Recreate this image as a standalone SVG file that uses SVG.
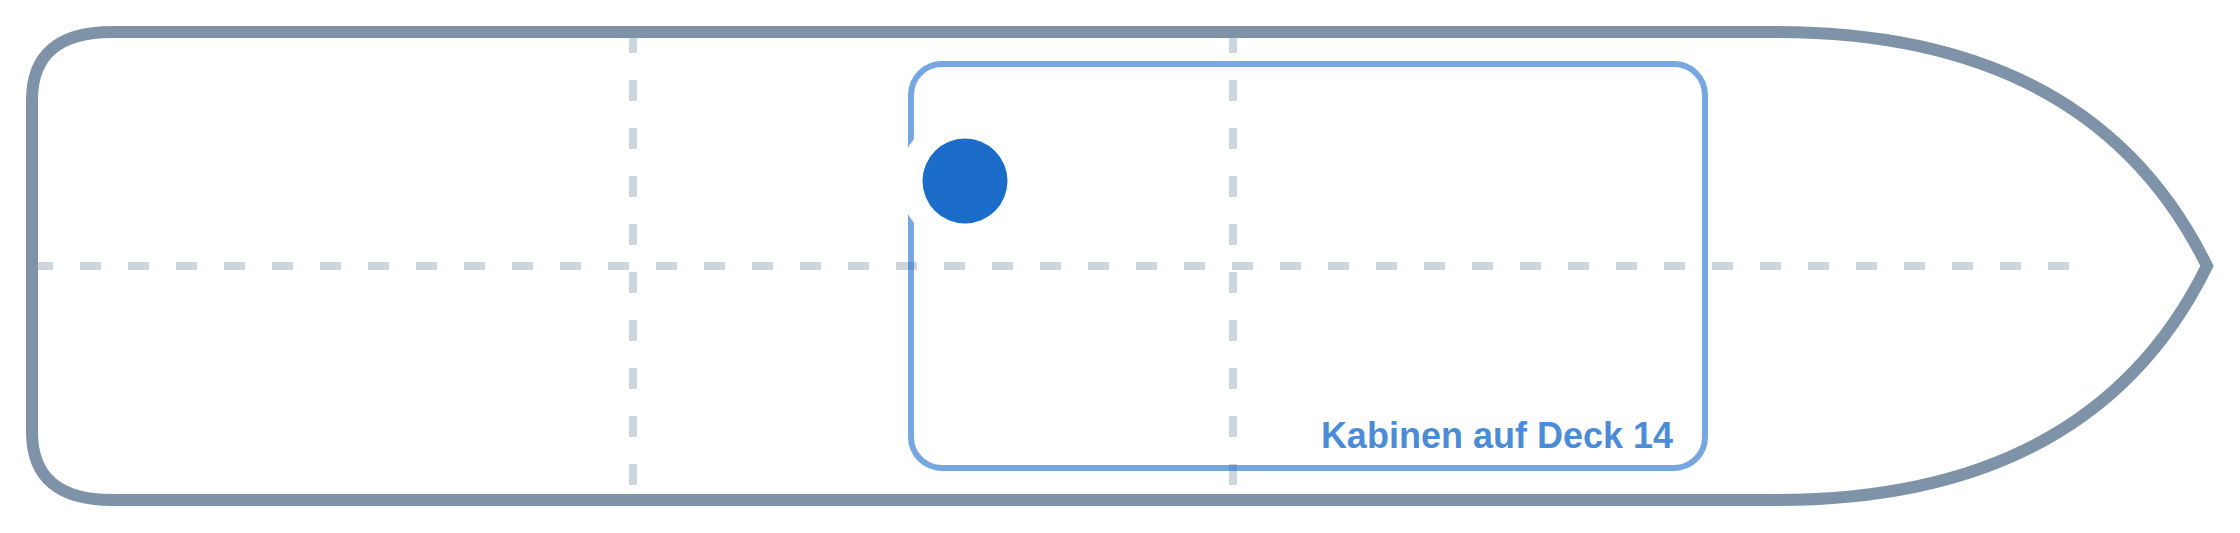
<svg xmlns="http://www.w3.org/2000/svg" width="2240" height="533" viewBox="0 0 2240 533">
  <style>
    .grid { stroke: #ccd4dc; stroke-width: 8; stroke-dasharray: 21 27; fill: none; }
    .hull { fill: none; stroke: #7f93a8; stroke-width: 12; stroke-linejoin: miter; }
    .box { fill: none; stroke: #1a6dcc; stroke-opacity: 0.6; stroke-width: 6; }
    .label { font-family: "Liberation Sans", Arial, sans-serif; font-weight: bold; font-size: 36px; fill: #1a6dcc; fill-opacity: 0.8; }
  </style>
  <rect width="2240" height="533" fill="#ffffff"/>
  <g id="grid">
    <line class="grid" x1="32" y1="266" x2="2080" y2="266"/>
    <line class="grid" x1="633" y1="32" x2="633" y2="500"/>
    <line class="grid" x1="1233" y1="32" x2="1233" y2="500"/>
  </g>
  <g id="hull">
    <path class="hull" d="M 112,32 L 1776,32 Q 2092,32 2207,266 Q 2092,500 1776,500 L 112,500 Q 32,500 32,432 L 32,100 Q 32,32 112,32 Z"/>
  </g>
  <g id="kabinen">
    <rect class="box" x="911" y="64" width="794" height="404" rx="31" ry="31"/>
    <text class="label" x="1673" y="448" text-anchor="end">Kabinen auf Deck 14</text>
  </g>
  <g id="marker-dot">
    <circle cx="965" cy="181" r="66" fill="#ffffff"/>
    <circle cx="965" cy="181" r="42.5" fill="#1c6dca"/>
  </g>
  <g id="connectors"/>
</svg>
